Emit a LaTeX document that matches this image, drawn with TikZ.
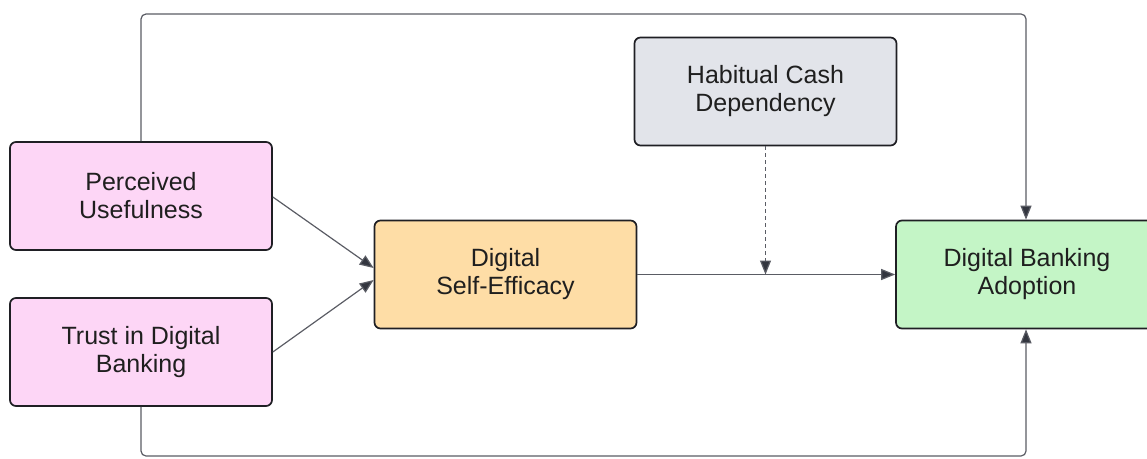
\documentclass[tikz,border=0pt]{standalone}
\usepackage{fontspec}
\setmainfont{Liberation Sans}
\usetikzlibrary{arrows.meta,positioning}
\definecolor{pinkfill}{HTML}{FDD6F6}
\definecolor{orangefill}{HTML}{FEDDA6}
\definecolor{greyfill}{HTML}{E2E4EA}
\definecolor{greenfill}{HTML}{C4F5C6}
\definecolor{edge}{HTML}{1F1F24}
\definecolor{wire}{HTML}{5A5C64}
\definecolor{tipc}{HTML}{33363F}
\tikzset{
  box/.style={draw=edge, line width=1.7pt, rounded corners=6pt,
    minimum width=262pt, minimum height=108pt, align=center,
    font=\fontsize{25}{28}\selectfont, text=black!88},
  link/.style={draw=wire, line width=1.2pt,
    -{Triangle[length=14pt,width=11pt,fill=tipc]}},
}
\begin{document}
\begin{tikzpicture}[x=1pt,y=-1pt]
\useasboundingbox (0,0) rectangle (1147,458);
% factors
\node[box, fill=pinkfill]   (pu)  at (141,196) {Perceived\\Usefulness};
\node[box, fill=pinkfill]   (tr)  at (141,352) {Trust in Digital\\Banking};
\node[box, fill=orangefill] (se)  at (505.5,274.5) {Digital\\Self-Efficacy};
\node[box, fill=greyfill]   (hc)  at (765.5,91.5) {Habitual Cash\\Dependency};
\node[box, fill=greenfill]  (dba) at (1027,274.5) {Digital Banking\\Adoption};
% paths into self-efficacy
\draw[link] (pu.east |- 0,197) -- (se.west |- 0,268);
\draw[link] (tr.east |- 0,352) -- (se.west |- 0,280);
% self-efficacy to adoption, moderated by cash dependency
\draw[link] (se.east) -- (dba.west);
\coordinate (mod) at (hc.south |- se.east);
\draw[link, dashed, dash pattern=on 4pt off 3pt] (hc.south) -- (mod);
% direct paths around the top and bottom
\draw[link, rounded corners=5pt] (pu.north) -- (141,14) -- (1026,14) -- (dba.north -| 1026,0);
\draw[link, rounded corners=5pt] (tr.south) -- (141,456) -- (1026,456) -- (dba.south -| 1026,0);
\end{tikzpicture}
\end{document}
